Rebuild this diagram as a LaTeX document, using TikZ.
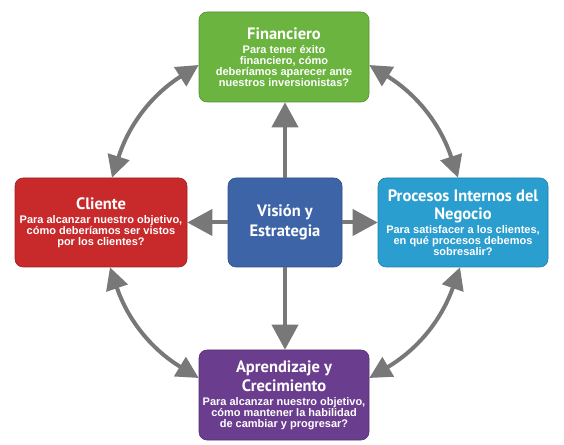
\documentclass[tikz,border=0pt]{standalone}
\usepackage{fontspec}
\setmainfont{Liberation Sans}
\newfontfamily\headfont{PT Sans}
\usetikzlibrary{arrows.meta}
\definecolor{finGreen}{HTML}{6BB43F}
\definecolor{cliRed}{HTML}{C8292B}
\definecolor{visBlue}{HTML}{3D64A6}
\definecolor{proCyan}{HTML}{2B9ED0}
\definecolor{aprPurple}{HTML}{6A3D8E}
\definecolor{arrGray}{HTML}{787878}
\newcommand{\ttl}[1]{{\headfont\fontsize{16.5}{11}\selectfont #1}}

\begin{document}
\begin{tikzpicture}[x=1pt,y=1pt,font=\bfseries\fontsize{11}{11}\selectfont,box/.style={draw=#1!80!black,fill=#1,line width=0.6pt,rounded corners=8pt,text=white,align=center,inner sep=2pt,minimum width=170pt,minimum height=90pt},arr/.style={-{Triangle[width=26pt,length=25pt]},line width=4pt,draw=arrGray},bi/.style={{Triangle[width=22pt,length=22pt]}-{Triangle[width=22pt,length=22pt]},line width=4pt,draw=arrGray}]
\useasboundingbox (0,0) rectangle (564,444);
\node[box=finGreen] (fin) at (284,387) {\ttl{Financiero}\\[3pt]Para tener éxito\\financiero, cómo\\deberíamos aparecer ante\\nuestros inversionistas?};
\node[box=cliRed,minimum width=172pt,minimum height=89pt] (cli) at (101,221.5) {\ttl{Cliente}\\[3pt]Para alcanzar nuestro objetivo,\\cómo deberíamos ser vistos\\por los clientes?};
\node[box=visBlue,minimum width=114pt,minimum height=89pt] (vis) at (285,221.5) {\ttl{Visión y}\\[4pt]\ttl{Estrategia}};
\node[box=proCyan,minimum height=89pt] (pro) at (463,221.5) {\ttl{Procesos Internos del}\\[5pt]\ttl{Negocio}\\[2pt]Para satisfacer a los clientes,\\en qué procesos debemos\\sobresalir?};
\node[box=aprPurple] (apr) at (284,49) {\ttl{Aprendizaje y}\\[3pt]\ttl{Crecimiento}\\[3pt]Para alcanzar nuestro objetivo,\\cómo mantener la habilidad\\de cambiar y progresar?};
% center arrows
\draw[arr] (vis.north) -- (vis.north |- fin.south);
\draw[arr] (vis.south) -- (vis.south |- apr.north);
\draw[arr] (vis.west) -- (cli.east);
\draw[arr] (vis.east) -- (pro.west);
% outer ring
\draw[bi] ([xshift=11pt]cli.north) to[bend left=20] ([yshift=-8pt]fin.west);
\draw[bi] ([yshift=-8pt]fin.east) to[bend left=20] ([xshift=-5pt]pro.north);
\draw[bi] ([xshift=-3pt]pro.south) to[bend left=20] ([yshift=17pt]apr.east);
\draw[bi] ([yshift=17pt]apr.west) to[bend left=20] ([xshift=9pt]cli.south);
\end{tikzpicture}
\end{document}
